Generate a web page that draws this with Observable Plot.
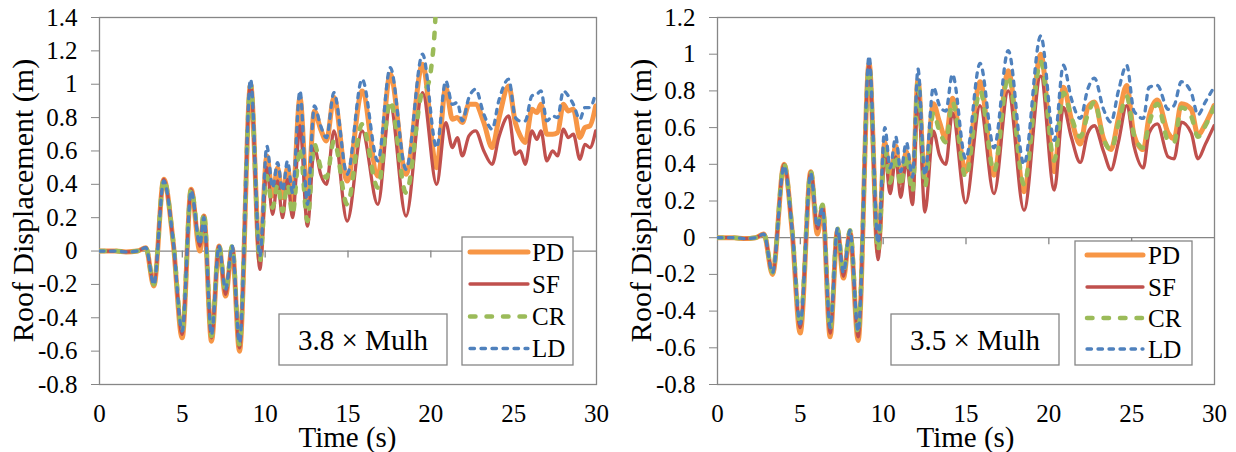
<!DOCTYPE html>
<html>
<head>
<meta charset="utf-8">
<script src="https://cdn.jsdelivr.net/npm/d3@7"></script>
<script src="https://cdn.jsdelivr.net/npm/@observablehq/plot@0.6"></script>
<style>
  body { margin: 0; background: #fff; }
  #wrap { display: flex; width: 1236px; height: 452px; overflow: hidden; }
  svg, svg text { font-family: "Liberation Serif", "Tinos", "Times New Roman", "DejaVu Serif", "Noto Serif", serif !important; }
</style>
</head>
<body>
<div id="wrap"></div>
<script>
// ---------- categories / labels ----------
const seriesNames = ["PD", "SF", "CR", "LD"];
const xTicks = [0, 5, 10, 15, 20, 25, 30];
const leftYTicks = [-0.8, -0.6, -0.4, -0.2, 0, 0.2, 0.4, 0.6, 0.8, 1, 1.2, 1.4];
const rightYTicks = [-0.8, -0.6, -0.4, -0.2, 0, 0.2, 0.4, 0.6, 0.8, 1, 1.2];
const leftCaption = "3.8 \u00d7 Mulh";
const rightCaption = "3.5 \u00d7 Mulh";
const xTitle = "Time (s)";
const yTitle = "Roof Displacement (m)";

// ---------- left panel (3.8 x Mulh) ----------
const leftTime = [
  0, 1, 1.6, 2.3, 2.8, 3.28, 3.88, 4.45, 4.99, 5.53,
  6.06, 6.3, 6.76, 7.21, 7.61, 8.01, 8.45, 9.12, 9.68, 10.1,
  10.45, 10.75, 11.05, 11.35, 11.65, 12.1, 12.55, 12.97, 13.35, 13.7,
  14.15, 14.95, 15.85, 16.8, 17.55, 18.5, 19.5, 19.8, 20.05, 20.25,
  20.35, 20.42, 20.9, 21.3, 21.6, 21.9, 22.3, 22.7, 23.2, 23.7,
  24.1, 24.7, 25.1, 25.4, 25.7, 26.1, 26.4, 26.65, 27.0, 27.35,
  27.65, 28.0, 28.3, 28.6, 29.0, 29.3, 29.6, 29.95
];
const leftPD = [
  0, 0, -0.005, 0, 0.02, -0.21, 0.43, 0.05, -0.52, 0.37,
  0.00, 0.21, -0.54, 0.03, -0.27, 0.02, -0.60, 1.00, -0.06, 0.57,
  0.33, 0.50, 0.32, 0.50, 0.30, 0.92, 0.30, 0.84, 0.73, 0.66,
  0.92, 0.42, 0.96, 0.45, 1.06, 0.46, 1.12, null, null, null,
  0.50, null, 0.98, 0.79, 0.80, 0.77, 0.88, 0.88, 0.77, 0.62,
  0.79, 0.99, 0.77, 0.69, 0.65, 0.85, 0.83, 0.88, 0.70, 0.70,
  0.71, 0.88, 0.84, 0.85, 0.68, 0.74, 0.75, 0.87
];
const leftSF = [
  0, 0, -0.005, 0, 0.02, -0.20, 0.43, 0.05, -0.50, 0.37,
  0.03, 0.21, -0.52, 0.03, -0.26, 0.02, -0.58, 1.00, -0.11, 0.50,
  0.22, 0.42, 0.20, 0.43, 0.20, 0.75, 0.15, 0.62, 0.46, 0.40,
  0.72, 0.18, 0.72, 0.28, 0.87, 0.21, 0.95, null, null, null,
  0.40, null, 0.77, 0.62, 0.68, 0.57, 0.69, 0.72, 0.60, 0.52,
  0.68, 0.81, 0.58, 0.60, 0.52, 0.72, 0.67, 0.72, 0.54, 0.60,
  0.57, 0.73, 0.68, 0.70, 0.55, 0.64, 0.62, 0.72
];
const leftCR = [
  0, 0, -0.005, 0, 0.02, -0.20, 0.43, 0.06, -0.48, 0.37,
  0.05, 0.23, -0.51, 0.04, -0.24, 0.03, -0.56, 1.00, -0.06, 0.45,
  0.26, 0.40, 0.24, 0.40, 0.22, 0.62, 0.18, 0.64, 0.50, 0.44,
  0.66, 0.28, 0.76, 0.38, 0.90, 0.35, 0.96, 0.99, 1.12, 1.35,
  null, 1.75, null, null, null, null, null, null, null, null,
  null, null, null, null, null, null, null, null, null, null,
  null, null, null, null, null, null, null, null
];
const leftLD = [
  0, 0, -0.005, 0, 0.02, -0.20, 0.42, 0.06, -0.48, 0.36,
  0.04, 0.20, -0.50, 0.03, -0.23, 0.03, -0.55, 1.03, -0.03, 0.63,
  0.38, 0.53, 0.36, 0.54, 0.35, 0.96, 0.28, 0.87, 0.75, 0.68,
  0.95, 0.46, 1.03, 0.54, 1.10, 0.49, 1.18, null, null, null,
  0.62, null, 1.02, 0.88, 0.89, 0.78, 0.92, 0.97, 0.82, 0.73,
  0.90, 1.03, 0.80, 0.78, 0.78, 0.93, 0.94, 0.96, 0.78, 0.81,
  0.80, 0.96, 0.93, 0.88, 0.79, 0.86, 0.86, 0.95
];

// ---------- right panel (3.5 x Mulh) ----------
const rightTime = [
  0, 1, 1.6, 2.3, 2.8, 3.32, 4.02, 4.5, 4.99, 5.63,
  6.03, 6.34, 6.8, 7.24, 7.6, 8.0, 8.49, 9.15, 9.69, 10.1,
  10.42, 10.76, 11.06, 11.4, 11.77, 12.1, 12.52, 13.03, 13.4, 13.78,
  14.18, 14.98, 15.85, 16.69, 17.55, 18.5, 19.51, 20.33, 20.88, 21.35,
  21.9, 22.35, 22.75, 23.3, 23.75, 24.2, 24.7, 25.14, 25.7, 26.05,
  26.55, 27.2, 27.56, 28.0, 28.6, 29.0, 29.45, 29.97
];
const rightPD = [
  0, 0, -0.005, 0, 0.02, -0.20, 0.40, 0.04, -0.52, 0.36,
  0.02, 0.17, -0.54, 0.04, -0.22, 0.03, -0.56, 0.95, -0.08, 0.52,
  0.32, 0.50, 0.30, 0.47, 0.28, 0.86, 0.30, 0.73, 0.63, 0.54,
  0.76, 0.36, 0.85, 0.34, 0.91, 0.25, 1.00, 0.36, 0.82, 0.65,
  0.51, 0.71, 0.74, 0.54, 0.48, 0.65, 0.83, 0.56, 0.48, 0.66,
  0.75, 0.57, 0.54, 0.73, 0.70, 0.56, 0.62, 0.72
];
const rightSF = [
  0, 0, -0.005, 0, 0.02, -0.19, 0.40, 0.04, -0.49, 0.36,
  0.05, 0.17, -0.52, 0.04, -0.21, 0.03, -0.54, 0.94, -0.12, 0.46,
  0.24, 0.44, 0.22, 0.42, 0.18, 0.80, 0.14, 0.58, 0.45, 0.40,
  0.68, 0.19, 0.72, 0.24, 0.80, 0.15, 0.88, 0.26, 0.71, 0.55,
  0.41, 0.57, 0.61, 0.47, 0.37, 0.52, 0.72, 0.50, 0.38, 0.57,
  0.62, 0.44, 0.43, 0.63, 0.57, 0.43, 0.51, 0.61
];
const rightCR = [
  0, 0, -0.005, 0, 0.02, -0.19, 0.40, 0.05, -0.47, 0.36,
  0.08, 0.18, -0.50, 0.05, -0.19, 0.04, -0.52, 0.93, -0.07, 0.48,
  0.30, 0.45, 0.28, 0.45, 0.25, 0.85, 0.28, 0.68, 0.58, 0.52,
  0.74, 0.33, 0.80, 0.36, 0.88, 0.29, 0.96, 0.42, 0.79, 0.66,
  0.55, 0.67, 0.74, 0.54, 0.48, 0.62, 0.77, 0.56, 0.49, 0.62,
  0.73, 0.53, 0.52, 0.71, 0.66, 0.55, 0.61, 0.71
];
const rightLD = [
  0, 0, -0.005, 0, 0.02, -0.19, 0.39, 0.05, -0.47, 0.35,
  0.06, 0.16, -0.49, 0.05, -0.19, 0.04, -0.51, 0.99, -0.03, 0.60,
  0.38, 0.55, 0.36, 0.52, 0.33, 0.92, 0.34, 0.82, 0.72, 0.69,
  0.89, 0.43, 0.95, 0.49, 1.02, 0.40, 1.10, 0.53, 0.94, 0.76,
  0.65, 0.81, 0.87, 0.70, 0.63, 0.80, 0.94, 0.69, 0.65, 0.82,
  0.83, 0.70, 0.72, 0.85, 0.79, 0.67, 0.74, 0.82
];

// ---------- styles ----------
const seriesColors = ["#F79646", "#C0504D", "#9BBB59", "#4F81BD"];
const seriesWidths = [5, 3.3, 4.5, 3.3];
const seriesDash = [null, null, "5.5,11", "4.5,6.5"];
const axisGray = "#868686";
const serifFont = '"Liberation Serif", "Tinos", "Times New Roman", "DejaVu Serif", "Noto Serif", serif';
const fmt = d => String(+d.toFixed(1));

function drawPanel(cfg) {
  const W = 618, H = 452, mL = 99, mR = 22, mT = 17, mB = 68;
  const [y0, y1] = cfg.yDomain;
  const tickLen = 7 * (y1 - y0) / (H - mT - mB);
  const lines = seriesNames.map((name, k) => {
    const rows = cfg.time
      .map((t, i) => ({t, v: cfg.values[k][i]}))
      .filter(d => d.v != null);
    return Plot.line(rows, {
      x: "t", y: "v",
      stroke: seriesColors[k],
      strokeWidth: seriesWidths[k],
      strokeDasharray: seriesDash[k] || undefined,
      strokeLinecap: "round", strokeLinejoin: "round",
      curve: "monotone-x", clip: true
    });
  });
  const chart = Plot.plot({
    width: W, height: H,
    marginLeft: mL, marginRight: mR, marginTop: mT, marginBottom: mB,
    style: {fontFamily: serifFont, fontSize: "25px", color: "#000", background: "#fff", overflow: "visible"},
    x: {domain: [0, 30]},
    y: {domain: cfg.yDomain},
    marks: [
      Plot.frame({stroke: axisGray, strokeWidth: 1.3}),
      Plot.ruleY([0], {stroke: axisGray, strokeWidth: 1.3}),
      Plot.ruleX(xTicks.slice(1, -1), {x: d => d, y1: 0, y2: -tickLen, stroke: axisGray, strokeWidth: 1.3}),
      Plot.axisY({ticks: cfg.yTicks, tickSize: 8, tickPadding: 14, tickFormat: fmt, stroke: axisGray, fill: "#000", label: null, fontFamily: serifFont}),
      Plot.axisX({ticks: xTicks, tickSize: 0, tickPadding: 20, tickFormat: d => String(d), fill: "#000", label: null, fontFamily: serifFont}),
      ...lines
    ]
  });
  chart.setAttribute("font-family", serifFont);

  const svg = d3.select(chart);
  // axis titles
  svg.append("text")
    .attr("transform", `translate(33,${(mT + H - mB) / 2}) rotate(-90)`)
    .attr("text-anchor", "middle").attr("font-size", 30).attr("fill", "#000")
    .attr("font-family", serifFont)
    .text(yTitle);
  svg.append("text")
    .attr("x", (mL + W - mR) / 2).attr("y", 447)
    .attr("text-anchor", "middle").attr("font-size", 29).attr("fill", "#000")
    .attr("font-family", serifFont)
    .text(xTitle);

  // caption box
  const cb = cfg.capBox;
  svg.append("rect").attr("x", cb[0]).attr("y", cb[1]).attr("width", cb[2]).attr("height", cb[3])
    .attr("fill", "#fff").attr("stroke", axisGray).attr("stroke-width", 1.3);
  svg.append("text").attr("x", cb[0] + cb[2] / 2).attr("y", cb[1] + cb[3] / 2).attr("dy", "0.35em")
    .attr("text-anchor", "middle").attr("font-size", 29).attr("fill", "#000")
    .attr("font-family", serifFont).text(cfg.caption);

  // legend
  const lb = cfg.legBox;
  svg.append("rect").attr("x", lb[0]).attr("y", lb[1]).attr("width", lb[2]).attr("height", lb[3])
    .attr("fill", "#fff").attr("stroke", axisGray).attr("stroke-width", 1.3);
  seriesNames.forEach((name, k) => {
    const yy = cfg.legRows[k];
    svg.append("line").attr("x1", cfg.legLine[0]).attr("x2", cfg.legLine[1]).attr("y1", yy).attr("y2", yy)
      .attr("stroke", seriesColors[k]).attr("stroke-width", seriesWidths[k])
      .attr("stroke-dasharray", seriesDash[k]).attr("stroke-linecap", "round");
    svg.append("text").attr("x", cfg.legText).attr("y", yy).attr("dy", "0.35em")
      .attr("text-anchor", "start")
      .attr("font-size", 25).attr("fill", "#000").attr("font-family", serifFont).text(name);
  });
  document.getElementById("wrap").appendChild(chart);
}

drawPanel({
  time: leftTime, values: [leftPD, leftSF, leftCR, leftLD],
  yDomain: [-0.8, 1.4], yTicks: leftYTicks, caption: leftCaption,
  capBox: [279, 314, 168, 51],
  legBox: [462, 237, 111, 128], legRows: [252, 284, 316.5, 348.5], legLine: [470, 528], legText: 532
});
drawPanel({
  time: rightTime, values: [rightPD, rightSF, rightCR, rightLD],
  yDomain: [-0.8, 1.2], yTicks: rightYTicks, caption: rightCaption,
  capBox: [273, 314, 168, 51],
  legBox: [457, 241, 117, 124], legRows: [255, 287, 318, 349], legLine: [469, 525], legText: 530
});
</script>
</body>
</html>
